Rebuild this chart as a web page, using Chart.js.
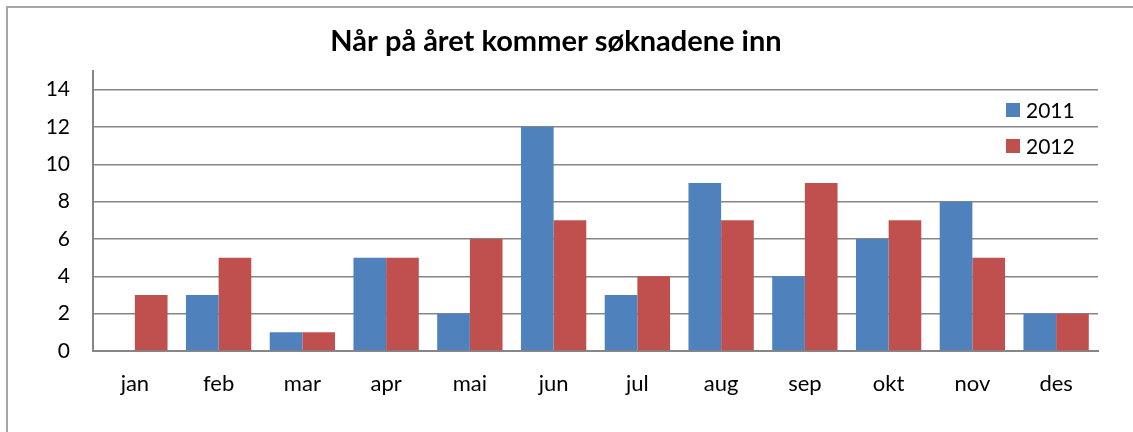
<!DOCTYPE html>
<html>
<head>
<meta charset="utf-8">
<script src="https://cdn.jsdelivr.net/npm/chart.js@4"></script>
<style>
  html, body { margin: 0; padding: 0; background: #fff; }
  #wrap { width: 1133px; height: 432px; position: relative; }
</style>
</head>
<body>
<div id="wrap"><canvas id="chart" width="1133" height="432"></canvas></div>
<script>
const titleText = 'Når på året kommer søknadene inn';
const months = ['jan', 'feb', 'mar', 'apr', 'mai', 'jun', 'jul', 'aug', 'sep', 'okt', 'nov', 'des'];
const series2011 = [0, 3, 1, 5, 2, 12, 3, 9, 4, 6, 8, 2];
const series2012 = [3, 5, 1, 5, 6, 7, 4, 7, 9, 7, 5, 2];
const yTicks = [0, 2, 4, 6, 8, 10, 12, 14];

const FONT = "Lato, 'Open Sans', sans-serif";
const AXIS_GRAY = '#868686';

// frame, title and the legend inside the plot, the way Excel places them
const decorations = {
  id: 'decorations',
  beforeDraw(chart) {
    const ctx = chart.ctx;
    ctx.save();
    ctx.fillStyle = '#fff';
    ctx.fillRect(0, 0, chart.width, chart.height);
    ctx.strokeStyle = '#a6a6a6';
    ctx.lineWidth = 2;
    ctx.strokeRect(7, 7, chart.width + 20, chart.height + 20);
    ctx.restore();
  },
  afterDraw(chart) {
    const ctx = chart.ctx;
    ctx.save();
    ctx.fillStyle = '#000';
    ctx.font = 'bold 29px ' + FONT;
    ctx.textAlign = 'center';
    ctx.textBaseline = 'alphabetic';
    ctx.fillText(titleText, 556, 51);

    ctx.font = '21px ' + FONT;
    ctx.textAlign = 'left';
    ctx.textBaseline = 'middle';
    chart.data.datasets.forEach((ds, i) => {
      const cy = 110 + i * 36;
      ctx.fillStyle = ds.backgroundColor;
      ctx.fillRect(1006, cy - 7, 14, 14);
      ctx.fillStyle = '#000';
      ctx.fillText(ds.label, 1026, cy + 1);
    });
    ctx.restore();
  }
};

new Chart(document.getElementById('chart'), {
  type: 'bar',
  data: {
    labels: months,
    datasets: [
      { label: '2011', data: series2011, backgroundColor: '#4F81BD' },
      { label: '2012', data: series2012, backgroundColor: '#C0504D' }
    ]
  },
  plugins: [decorations],
  options: {
    responsive: false,
    animation: false,
    layout: { padding: { left: 0, top: 71, right: 35, bottom: 0 } },
    datasets: {
      bar: { categoryPercentage: 0.78, barPercentage: 1.0, borderWidth: 0 }
    },
    plugins: {
      legend: { display: false },
      title: { display: false },
      tooltip: { enabled: false }
    },
    scales: {
      x: {
        grid: { display: false, drawTicks: false },
        border: { display: true, color: AXIS_GRAY, width: 2 },
        ticks: { color: '#000', font: { family: FONT, size: 22 }, padding: 20 },
        afterFit: (s) => { s.height = 81; }
      },
      y: {
        min: 0,
        max: 15,
        grid: { color: AXIS_GRAY, lineWidth: 1.5, drawTicks: false },
        border: { display: true, color: AXIS_GRAY, width: 2 },
        ticks: { color: '#000', font: { family: FONT, size: 21 }, padding: 23, stepSize: 2 },
        afterBuildTicks: (s) => { s.ticks = yTicks.map(v => ({ value: v })); },
        afterFit: (s) => { s.width = 93; }
      }
    }
  }
});
</script>
</body>
</html>
